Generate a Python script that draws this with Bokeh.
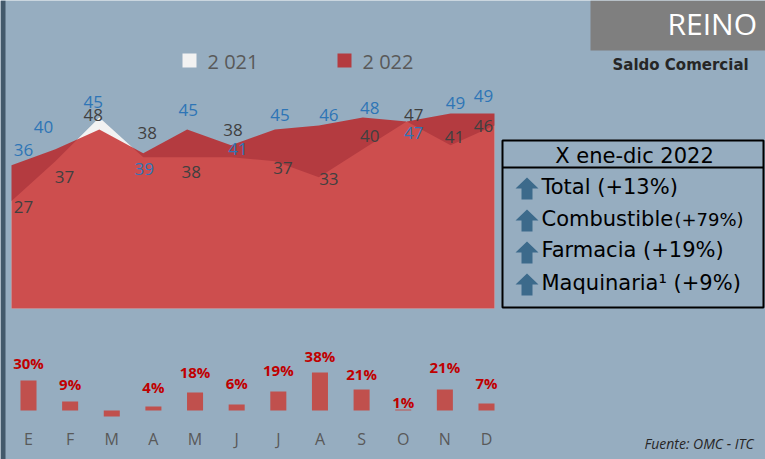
from bokeh.plotting import figure
from bokeh.models import Range1d
from bokeh.core.properties import value
from bokeh.embed import file_html
from bokeh.resources import INLINE

# ---------------- data ----------------
months = ["E", "F", "M", "A", "M", "J", "J", "A", "S", "O", "N", "D"]
exp_2021 = [27, 37, 48, 38, 38, 38, 37, 33, 40, 47, 41, 46]
exp_2022 = [36, 40, 45, 39, 45, 41, 45, 46, 48, 47, 49, 49]
var_pct = [30, 9, -6, 4, 18, 6, 19, 38, 21, 1, 21, 7]
series_names = ["2 021", "2 022"]
title_text = "REINO"
subtitle_text = "Saldo Comercial"
box_title = "X ene-dic 2022"
box_items = ["Total (+13%)", "Combustible", "Farmacia  (+19%)", "Maquinaria\u00b9 (+9%)"]
box_extra = "(+79%)"
source_text = "Fuente: OMC  - ITC"

# ---------------- styles / label placement ----------------
BG = "#96adc0"
RED = "#be1010"
RED_ALPHA = 0.73
WHITE_AREA = "#f2f2f2"
BLUE_LAB = "#2e75b6"
DARK_LAB = "#404040"
BAR = "#c0504d"
BAR_LAB = "#c00000"
ARROW = "#3c6a8b"

off_2022_x = [12, -12, -6, 1, 1, 7, 5, 10, 7, 7, 5, -11]
off_2022_y = [-15, -22, -27, 16, -19, 4, -14, -10, -9, 12, -11, -18]
off_2021_x = [12, 9, -6, 4, 4, 2, 8, 10, 7, 7, 4, -11]
off_2021_y = [6, 16, -2, -24, 15, -27, 7, 2, -13, -6, -8, 1]
bar_lab_dy = [-18, -18, -20, -21, -22, -22, -17, -16, -8, -23, -21]

W, H = 765, 459
X0, X1 = 0, W
Y0, Y1 = 0, H


def rng(v0, s0, v1, s1, lo, hi):
    k = (v1 - v0) / (s1 - s0)
    return Range1d(start=v0 + (lo - s0) * k, end=v0 + (hi - s0) * k)


p = figure(width=W, height=H, output_backend="svg", toolbar_location=None,
           x_range=Range1d(X0, X1), y_range=Range1d(Y1, Y0),
           x_axis_location=None, y_axis_location=None, min_border=0,
           background_fill_color=BG, border_fill_color=BG, outline_line_color=None)
p.grid.visible = False

p.extra_x_ranges = {"ax": rng(0, 11, 11, 494, X0, X1), "bx": rng(0, 28, 11, 486, X0, X1)}
p.extra_y_ranges = {"ay": rng(0, 308, 49, 113, Y1, Y0), "by": rng(0, 410, 38, 372, Y1, Y0)}

idx = list(range(len(months)))

# left dark strip
p.quad(left=[0], right=[5], top=[0], bottom=[H], fill_color="#43596b", line_color=None)

# ---------------- area chart ----------------
p.varea(x=idx, y1=0, y2=exp_2021, fill_color=WHITE_AREA, x_range_name="ax", y_range_name="ay")
p.varea(x=idx, y1=0, y2=exp_2022, fill_color=RED, fill_alpha=RED_ALPHA, x_range_name="ax", y_range_name="ay")

lab_kw = dict(x_range_name="ax", y_range_name="ay", text_font=value("Open Sans"), text_font_size="17px",
              text_align="center", text_baseline="middle")
p.text(x=idx, y=exp_2021, text=[str(v) for v in exp_2021], x_offset=off_2021_x, y_offset=off_2021_y,
       text_color=DARK_LAB, **lab_kw)
p.text(x=idx, y=exp_2022, text=[str(v) for v in exp_2022], x_offset=off_2022_x, y_offset=off_2022_y,
       text_color=BLUE_LAB, **lab_kw)

# legend
p.quad(left=[182], right=[196], top=[53], bottom=[67], fill_color=WHITE_AREA, line_color=None)
p.quad(left=[337], right=[351], top=[53], bottom=[67], fill_color=RED, fill_alpha=RED_ALPHA, line_color=None)
p.text(x=[207, 362], y=[61, 61], text=series_names, text_color="#595959", text_font=value("Open Sans"),
       text_font_size="20px", text_align="left", text_baseline="middle")

# ---------------- bar chart ----------------
p.vbar(x=idx, top=var_pct, bottom=0, width=0.385, fill_color=BAR, line_color=None,
       x_range_name="bx", y_range_name="by")
pos_i = [i for i, v in enumerate(var_pct) if v > 0]
p.text(x=pos_i, y=[var_pct[i] for i in pos_i], text=[f"{var_pct[i]}%" for i in pos_i],
       y_offset=bar_lab_dy, x_range_name="bx", y_range_name="by", text_color=BAR_LAB,
       text_font=value("Open Sans"), text_font_style="bold", text_font_size="15px",
       text_align="center", text_baseline="middle")
p.text(x=idx, y=[438] * len(idx), text=months, x_range_name="bx", text_color="#595959",
       text_font=value("Open Sans"), text_font_size="16px", text_align="center", text_baseline="middle")

# ---------------- title block ----------------
p.quad(left=[590], right=[W], top=[0], bottom=[50], fill_color="#7f7f7f", line_color=None)
p.text(x=[667], y=[23], text=[title_text], text_color="white", text_font=value("Open Sans"),
       text_font_size="30px", text_align="left", text_baseline="middle")
p.text(x=[612], y=[64], text=[subtitle_text], text_color="#262626", text_font=value("DejaVu Sans"),
       text_font_style="bold", text_font_size="15px", text_align="left", text_baseline="middle")

# ---------------- info box ----------------
p.quad(left=[502], right=[763], top=[140], bottom=[307], fill_color=None, line_color="black", line_width=2)
p.segment(x0=[502], y0=[167], x1=[763], y1=[167], line_color="black", line_width=2)
p.text(x=[634], y=[155], text=[box_title], text_color="black", text_font=value("DejaVu Sans"),
       text_font_size="21px", text_align="center", text_baseline="middle")

row_y = [186, 218, 249, 282]
arrow_top = [177, 209, 241, 273]
xs, ys = [], []
for t in arrow_top:
    xs.append([515, 526.5, 538, 532, 532, 521, 521])
    ys.append([t + 11, t, t + 11, t + 11, t + 22, t + 22, t + 11])
p.patches(xs=xs, ys=ys, fill_color=ARROW, line_color=None)
p.text(x=[541] * 4, y=row_y, text=box_items, text_color="black", text_font=value("DejaVu Sans"),
       text_font_size="21px", text_align="left", text_baseline="middle")
p.text(x=[674], y=[219], text=[box_extra], text_color="black", text_font=value("DejaVu Sans"),
       text_font_size="18px", text_align="left", text_baseline="middle")

# source
p.text(x=[644], y=[443], text=[source_text], text_color="#262626", text_font=value("Open Sans"),
       text_font_style="italic", text_font_size="14px", text_align="left", text_baseline="middle")

open("out.html", "w").write(file_html(p, INLINE))
